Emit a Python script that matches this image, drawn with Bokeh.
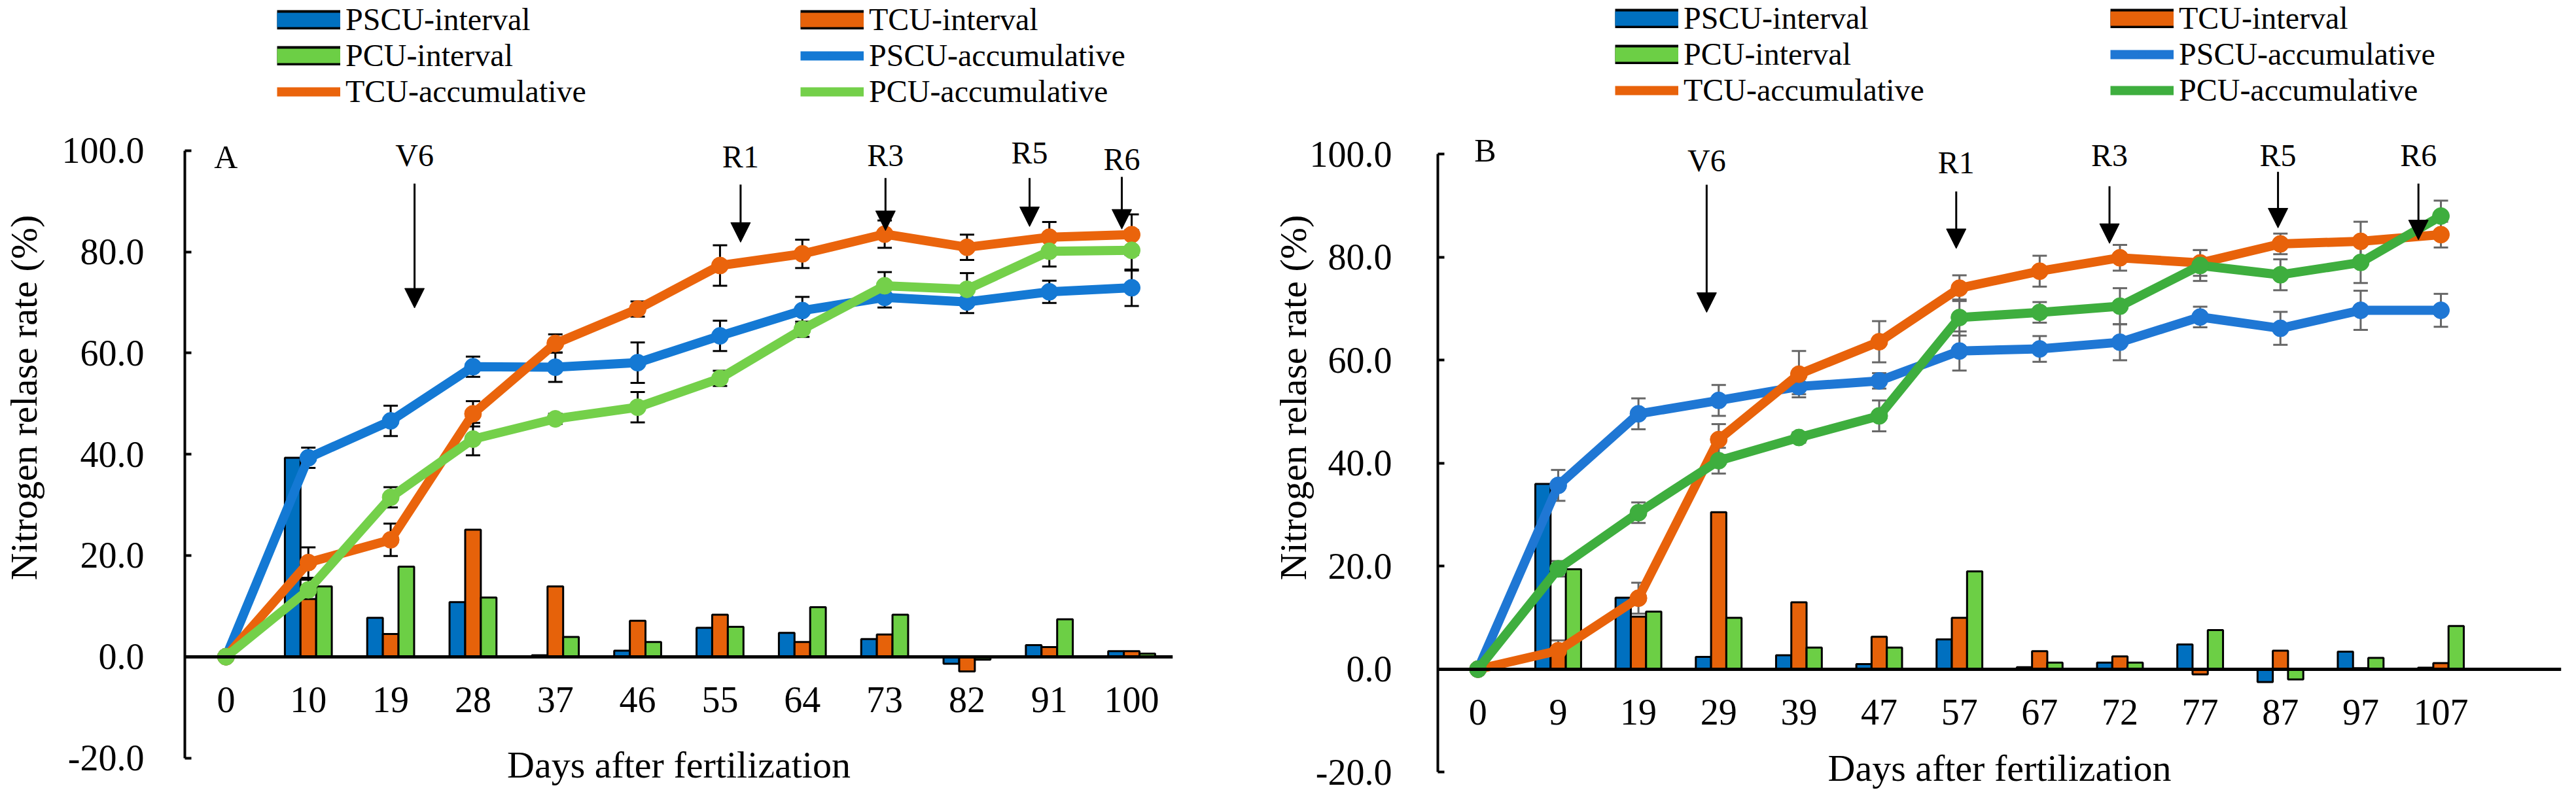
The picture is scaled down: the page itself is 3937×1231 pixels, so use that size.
from bokeh.plotting import figure
from bokeh.models import (ColumnDataSource, Whisker, TeeHead, Arrow, NormalHead,
                          Legend, LegendItem, FixedTicker, PrintfTickFormatter,
                          Range1d, Label, CDSView, IndexFilter)
from bokeh.transform import dodge
from bokeh.layouts import row
from bokeh.embed import file_html
from bokeh.resources import INLINE
from bokeh.core.properties import value

FONT = "Liberation Serif"

# ---------------- data: panel A ----------------
days_a = ["0", "10", "19", "28", "37", "46", "55", "64", "73", "82", "91", "100"]
pscu_int_a = [0, 39.3, 7.7, 10.8, 0.3, 1.2, 5.7, 4.7, 3.5, -1.4, 2.3, 1.1]
tcu_int_a = [0, 11.4, 4.5, 25.1, 13.9, 7.1, 8.3, 2.9, 4.4, -2.9, 1.9, 1.1]
pcu_int_a = [0, 13.9, 17.8, 11.7, 3.9, 2.9, 5.9, 9.8, 8.3, -0.6, 7.4, 0.6]
pscu_acc_a = [0, 39.3, 46.6, 57.3, 57.2, 58.1, 63.4, 68.4, 71.0, 70.1, 72.1, 72.9]
tcu_acc_a = [0, 18.6, 23.1, 48.0, 61.9, 68.7, 77.3, 79.6, 83.5, 80.9, 82.9, 83.4]
pcu_acc_a = [0, 13.2, 31.5, 43.0, 47.0, 49.3, 55.0, 64.7, 73.3, 72.6, 80.1, 80.3]
pscu_err_a = [0, 2.0, 3.0, 2.0, 2.9, 4.0, 3.0, 2.7, 2.0, 2.2, 2.2, 3.6]
tcu_err_a = [0, 3.0, 3.2, 2.5, 1.8, 1.5, 4.0, 2.8, 2.7, 2.5, 3.0, 4.0]
pcu_err_a = [0, 2.0, 2.0, 3.2, 1.0, 3.0, 1.5, 1.5, 2.7, 3.2, 3.0, 4.0]
stages_a = ["V6", "R1", "R3", "R5", "R6"]
stage_x_a = [2.29, 6.25, 8.01, 9.76, 10.88]
arrow_top_a = [93.5, 93.3, 94.6, 94.6, 94.8]
arrow_tip_a = [68.9, 81.9, 84.2, 85.0, 84.5]
stage_y_a = [99.1, 98.8, 99.1, 99.6, 98.3]

# ---------------- data: panel B ----------------
days_b = ["0", "9", "19", "29", "39", "47", "57", "67", "72", "77", "87", "97", "107"]
pscu_int_b = [0, 36.0, 13.9, 2.4, 2.7, 1.0, 5.8, 0.4, 1.3, 4.8, -2.5, 3.4, 0.3]
tcu_int_b = [0, 3.0, 10.2, 30.5, 13.0, 6.3, 10.0, 3.5, 2.5, -1.0, 3.6, 0.2, 1.2]
pcu_int_b = [0, 19.4, 11.2, 10.0, 4.2, 4.2, 19.0, 1.3, 1.3, 7.6, -2.0, 2.2, 8.4]
pscu_acc_b = [0, 35.7, 49.6, 52.2, 54.9, 56.0, 61.8, 62.2, 63.5, 68.4, 66.2, 69.7, 69.7]
tcu_acc_b = [0, 3.6, 13.8, 44.6, 57.3, 63.6, 74.0, 77.3, 79.9, 78.9, 82.6, 83.1, 84.4]
pcu_acc_b = [0, 19.5, 30.4, 40.5, 45.0, 49.2, 68.3, 69.3, 70.5, 78.4, 76.6, 79.0, 88.0]
pscu_err_b = [0, 3.0, 3.0, 3.0, 1.5, 1.5, 3.8, 2.5, 3.5, 2.0, 3.2, 3.8, 3.2]
tcu_err_b = [0, 2.0, 3.0, 3.0, 4.5, 4.0, 2.5, 3.0, 2.5, 2.5, 2.0, 3.8, 2.5]
pcu_err_b = [0, 1.5, 2.0, 2.5, 1.0, 3.0, 3.5, 2.0, 3.5, 3.0, 3.0, 4.0, 3.0]
stages_b = ["V6", "R1", "R3", "R5", "R6"]
stage_x_b = [2.85, 5.96, 7.87, 9.97, 11.72]
arrow_top_b = [94.1, 92.8, 93.8, 96.6, 94.3]
arrow_tip_b = [69.3, 81.7, 82.7, 85.7, 83.4]
stage_y_b = [98.8, 98.4, 99.8, 99.8, 99.8]

y_ticks = [-20, 0, 20, 40, 60, 80, 100]
y_axis_bounds = (-20, 100)
series_names = ["PSCU-interval", "TCU-interval", "PCU-interval",
                "PSCU-accumulative", "TCU-accumulative", "PCU-accumulative"]

# ---------------- styles ----------------
BAR_COLORS = ["#0070C0", "#E6620A", "#6CCF45"]
H = 1215


def build(letter, days, slots, ints, accs, errs, stages, sx, atop, atip, sy,
          width, yview, borders, legend_loc, label_w, line_colors, err_color,
          letter_xy, ylab_standoff, ytick_standoff, xlab_standoff):
    n = len(days)
    idx = list(range(n))
    p = figure(width=width, height=H, output_backend="svg", toolbar_location=None,
               x_range=Range1d(-0.5, slots - 0.5), y_range=Range1d(*yview),
               min_border_left=borders[0], min_border_right=borders[1],
               min_border_top=0, min_border_bottom=0)
    p.outline_line_color = None
    p.grid.visible = False
    p.background_fill_color = "white"

    src = ColumnDataSource(dict(x=idx, i0=ints[0], i1=ints[1], i2=ints[2],
                                a0=accs[0], a1=accs[1], a2=accs[2]))
    bw = 0.19
    for k, off in enumerate([-bw, 0.0, bw]):
        p.vbar(x=dodge("x", off), top="i%d" % k, bottom=0, width=bw, source=src,
               fill_color=BAR_COLORS[k], line_color="black", line_width=3)

    # wide swatches used only as legend glyphs for the bar series:
    # a one-row view of the bar data gives a line with a single vertex, which
    # draws nothing on the plot but still lends its style to the legend
    one_row = CDSView(filter=IndexFilter(indices=[0]))
    swatches = []
    for k in range(3):
        edge = p.line(x="x", y="i%d" % k, source=src, view=one_row,
                      line_color="black", line_width=30)
        fill = p.line(x="x", y="i%d" % k, source=src, view=one_row,
                      line_color=BAR_COLORS[k], line_width=22)
        swatches.append([edge, fill])

    # error bars
    for k in range(3):
        xs = [i for i in idx if errs[k][i] > 0]
        ws = ColumnDataSource(dict(x=xs,
                                   lo=[accs[k][i] - errs[k][i] for i in xs],
                                   hi=[accs[k][i] + errs[k][i] for i in xs]))
        w = Whisker(source=ws, base="x", lower="lo", upper="hi",
                    line_color=err_color, line_width=3, level="underlay",
                    upper_head=TeeHead(size=22, line_color=err_color, line_width=3),
                    lower_head=TeeHead(size=22, line_color=err_color, line_width=3))
        p.add_layout(w)

    lines = []
    for k in range(3):
        l = p.line(x="x", y="a%d" % k, source=src, line_color=line_colors[k], line_width=14)
        s = p.scatter(x="x", y="a%d" % k, source=src, marker="circle", size=26,
                      fill_color=line_colors[k], line_color=line_colors[k])
        lines.append([l, s])

    # growth stage arrows + labels
    ssrc = ColumnDataSource(dict(x=sx, y0=atop, y1=atip, ly=sy, t=stages))
    p.add_layout(Arrow(source=ssrc, x_start="x", y_start="y0", x_end="x", y_end="y1",
                       line_color="black", line_width=3,
                       end=NormalHead(size=30, fill_color="black", line_color="black")))
    p.text(x="x", y="ly", text="t", source=ssrc, text_align="center",
           text_baseline="middle", text_font=value(FONT), text_font_size="48px",
           text_color="black")

    p.add_layout(Label(x=letter_xy[0], y=letter_xy[1], text=letter, text_font=FONT,
                       text_font_size="50px", text_align="center",
                       text_baseline="middle", text_color="black"))

    # axes
    ya = p.yaxis[0]
    ya.bounds = y_axis_bounds
    ya.ticker = FixedTicker(ticks=y_ticks)
    ya.formatter = PrintfTickFormatter(format="%.1f")
    ya.axis_label = "Nitrogen relase rate (%)"
    ya.axis_label_text_font = FONT
    ya.axis_label_text_font_size = "58px"
    ya.axis_label_text_font_style = "normal"
    ya.axis_label_text_color = "black"
    ya.axis_label_standoff = ylab_standoff
    ya.major_label_text_font = FONT
    ya.major_label_text_font_size = "56px"
    ya.major_label_text_color = "black"
    ya.major_label_standoff = ytick_standoff
    ya.major_tick_in = 10
    ya.major_tick_out = 0
    ya.minor_tick_in = 0
    ya.minor_tick_out = 0
    ya.axis_line_width = 4
    ya.major_tick_line_width = 4

    xa = p.xaxis[0]
    xa.fixed_location = 0
    xa.ticker = FixedTicker(ticks=idx)
    xa.major_label_overrides = {i: d for i, d in enumerate(days)}
    xa.axis_label = "Days after fertilization"
    xa.axis_label_text_font = FONT
    xa.axis_label_text_font_size = "58px"
    xa.axis_label_text_font_style = "normal"
    xa.axis_label_text_color = "black"
    xa.axis_label_standoff = xlab_standoff
    xa.major_label_text_font = FONT
    xa.major_label_text_font_size = "56px"
    xa.major_label_text_color = "black"
    xa.major_label_standoff = 47
    xa.major_tick_in = 0
    xa.major_tick_out = 0
    xa.minor_tick_in = 0
    xa.minor_tick_out = 0
    xa.axis_line_width = 5

    items = [LegendItem(label=series_names[0], renderers=swatches[0]),
             LegendItem(label=series_names[1], renderers=swatches[1]),
             LegendItem(label=series_names[2], renderers=swatches[2]),
             LegendItem(label=series_names[3], renderers=lines[0]),
             LegendItem(label=series_names[4], renderers=lines[1]),
             LegendItem(label=series_names[5], renderers=lines[2])]
    leg = Legend(items=items, location=legend_loc, orientation="horizontal", ncols=2,
                 border_line_color=None, background_fill_alpha=0, padding=0, margin=0,
                 spacing=0, glyph_width=97, glyph_height=30, label_standoff=8,
                 label_width=label_w, label_text_font=FONT, label_text_font_size="48px",
                 label_text_color="black")
    p.add_layout(leg)
    return p


pA = build("A", days_a, len(days_a), [pscu_int_a, tcu_int_a, pcu_int_a],
           [pscu_acc_a, tcu_acc_a, pcu_acc_a], [pscu_err_a, tcu_err_a, pcu_err_a],
           stages_a, stage_x_a, arrow_top_a, arrow_tip_a, stage_y_a,
           width=1930, yview=(-27.3, 129.7), borders=(275, 138),
           legend_loc=(141, 1048), label_w=695,
           line_colors=["#1479D4", "#EA640C", "#74D04A"], err_color="black",
           letter_xy=(0.0, 98.8), ylab_standoff=23, ytick_standoff=62, xlab_standoff=44)

pB = build("B", days_b, len(days_b) + 1, [pscu_int_b, tcu_int_b, pcu_int_b],
           [pscu_acc_b, tcu_acc_b, pcu_acc_b], [pscu_err_b, tcu_err_b, pcu_err_b],
           stages_b, stage_x_b, arrow_top_b, arrow_tip_b, stage_y_b,
           width=1991, yview=(-24.4, 129.9), borders=(267, 7),
           legend_loc=(271, 1050), label_w=652,
           line_colors=["#1F77D4", "#E8620A", "#3EAE3E"], err_color="#666666",
           letter_xy=(0.09, 100.7), ylab_standoff=-10, ytick_standoff=70, xlab_standoff=30)

layout = row(pA, pB)
open("out.html", "w").write(file_html(layout, INLINE))
